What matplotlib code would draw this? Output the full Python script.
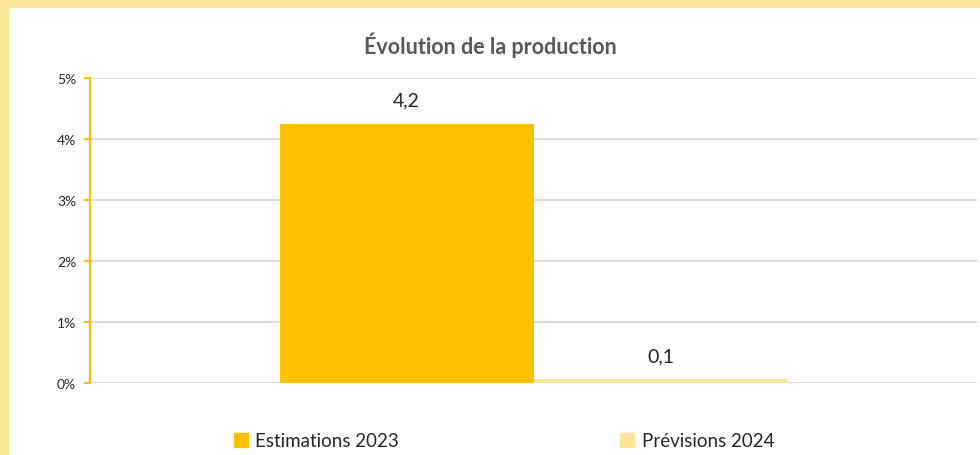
import matplotlib
matplotlib.use("Agg")
import matplotlib.pyplot as plt
from matplotlib.patches import Rectangle
from matplotlib.ticker import FuncFormatter

series = ["Estimations 2023", "Prévisions 2024"]
values = [4.25, 0.06]
labels = ["4,2", "0,1"]
colors = ["#FFC000", "#FFE699"]
yticks = [0, 1, 2, 3, 4, 5]

plt.rcParams['font.family'] = ['Lato', 'DejaVu Sans']

W, H = 980, 456
fig = plt.figure(figsize=(W/100, H/100), dpi=100)
fig.patch.set_facecolor("white")
# yellow border on top and left
fig.patches.append(Rectangle((0, 1 - 8/H), 1, 8/H, transform=fig.transFigure, color="#FFE699", zorder=0))
fig.patches.append(Rectangle((0, 0), 8/W, 1, transform=fig.transFigure, color="#FFE699", zorder=0))

x0, x1 = 90, 977
y0, y1 = 384, 79
ax = fig.add_axes([x0/W, 1 - y0/H, (x1-x0)/W, (y0-y1)/H])
ax.set_xlim(-0.5, 0.5)
ax.set_ylim(0, 5)

bw = 254/887
offsets = [-bw/2, bw/2]
for s, v, lab, c, off in zip(series, values, labels, colors, offsets):
    ax.bar(off, v, width=bw, color=c, label=s, zorder=3)
    ax.text(off, v + 0.25, lab, ha="center", va="bottom", fontsize=14, color="#262626")

ax.set_yticks(yticks)
ax.yaxis.set_major_formatter(FuncFormatter(lambda v, p: f"{int(v)}%"))
ax.set_xticks([])
ax.grid(axis="y", color="#D9D9D9", linewidth=1.3, zorder=0)
for sp in ["top", "right", "bottom"]:
    ax.spines[sp].set_visible(False)
ax.spines["left"].set_color("#FFC000")
ax.spines["left"].set_linewidth(1.5)
ax.tick_params(axis="y", colors="#FFC000", length=4, width=1.5, labelcolor="#262626", labelsize=10, pad=6)

fig.text(0.5, 1 - 45/H, "Évolution de la production", ha="center", va="center",
         fontsize=15.5, fontweight="bold", color="#595959")

handles = [Rectangle((0, 0), 1, 1, color=c) for c in colors]
fig.legend(handles, series, loc="center", bbox_to_anchor=(504/W, 1 - 442/H), ncol=2,
           frameon=False, fontsize=13.5, handlelength=0.75, handleheight=0.75,
           handletextpad=0.4, columnspacing=11.8, labelcolor="#262626")

fig.savefig("out.png", dpi=100, facecolor="white")
